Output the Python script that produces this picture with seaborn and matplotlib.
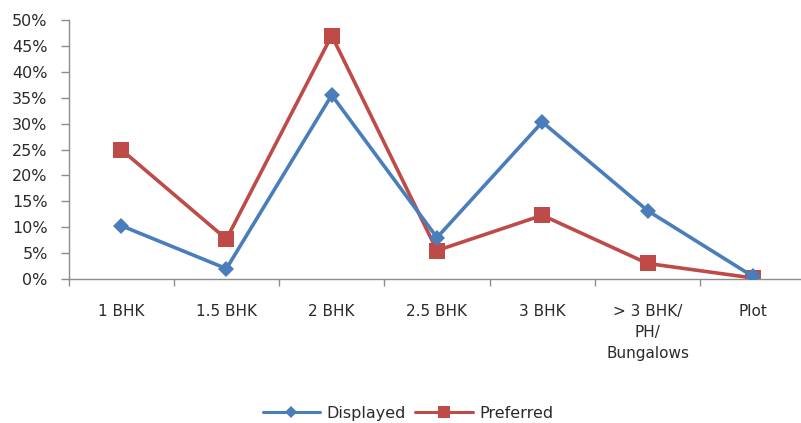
import numpy as np
import pandas as pd
import matplotlib
matplotlib.use("Agg")
import matplotlib.pyplot as plt
import seaborn as sns
from matplotlib.ticker import FixedLocator, PercentFormatter
from matplotlib.lines import Line2D

categories = ["1 BHK", "1.5 BHK", "2 BHK", "2.5 BHK", "3 BHK",
              "> 3 BHK/\nPH/\nBungalows", "Plot"]
displayed = [10.3, 2.0, 35.5, 8.0, 30.3, 13.2, 0.5]
preferred = [25.0, 7.7, 47.0, 5.5, 12.3, 3.0, 0.2]
series_names = ["Displayed", "Preferred"]
y_ticks = [0, 5, 10, 15, 20, 25, 30, 35, 40, 45, 50]

blue = "#4A7EBB"
red = "#BE4B48"
axis_grey = "#8C8C8C"
text_col = "#2A2A2A"

sns.set_theme(style="white")
plt.rcParams["font.family"] = ["DejaVu Sans"]

df = pd.DataFrame({
    "pos": list(range(len(categories))) * 2,
    "value": displayed + preferred,
    "series": [series_names[0]] * len(categories) + [series_names[1]] * len(categories),
})

fig = plt.figure(figsize=(8.01, 4.23), dpi=100)
ax = fig.add_axes([68.5 / 801, 1 - 279 / 423, 737 / 801, 259 / 423])

sns.lineplot(data=df, x="pos", y="value", hue="series", style="series",
             palette={"Displayed": blue, "Preferred": red},
             markers={"Displayed": "D", "Preferred": "s"},
             dashes=False, linewidth=2.6, markersize=9,
             markeredgewidth=0, legend=False, ax=ax, zorder=3)
# the squares are larger than the diamonds
for line, ms in zip(ax.get_lines(), [8, 12]):
    line.set_markersize(ms)
ax.get_lines()[1].set_zorder(2)

ax.set_xlim(-0.5, len(categories) - 0.5)
ax.set_ylim(0, 50)
ax.set_xlabel("")
ax.set_ylabel("")

ax.yaxis.set_major_locator(FixedLocator(y_ticks))
ax.yaxis.set_major_formatter(PercentFormatter(decimals=0))
ax.tick_params(axis="y", which="major", direction="out", length=6, width=1,
               color=axis_grey, pad=9, labelsize=11.5, labelcolor=text_col, left=True)

# category labels centred, tick marks on the category boundaries
ax.set_xticks(np.arange(len(categories)))
ax.set_xticklabels(categories, fontsize=11, color=text_col, linespacing=1.5, va="top")
ax.set_xticks(np.arange(-0.5, len(categories) + 0.5, 1), minor=True)
ax.tick_params(axis="x", which="major", length=0, pad=18)
ax.tick_params(axis="x", which="minor", direction="out", length=5, width=1,
               color=axis_grey, bottom=True)

for side in ["top", "right"]:
    ax.spines[side].set_visible(False)
for side in ["left", "bottom"]:
    ax.spines[side].set_color(axis_grey)
    ax.spines[side].set_linewidth(1)

handles = [
    Line2D([], [], color=blue, lw=2.2, marker="D", markersize=6, markeredgewidth=0),
    Line2D([], [], color=red, lw=2.2, marker="s", markersize=8, markeredgewidth=0),
]
fig.legend(handles, series_names, loc="center", bbox_to_anchor=(408 / 801, 1 - 413 / 423),
           ncol=2, frameon=False, fontsize=11.5, handlelength=3.6, columnspacing=0.6,
           handletextpad=0.4, labelcolor=text_col)

fig.savefig("out.png", dpi=100, facecolor="white")
